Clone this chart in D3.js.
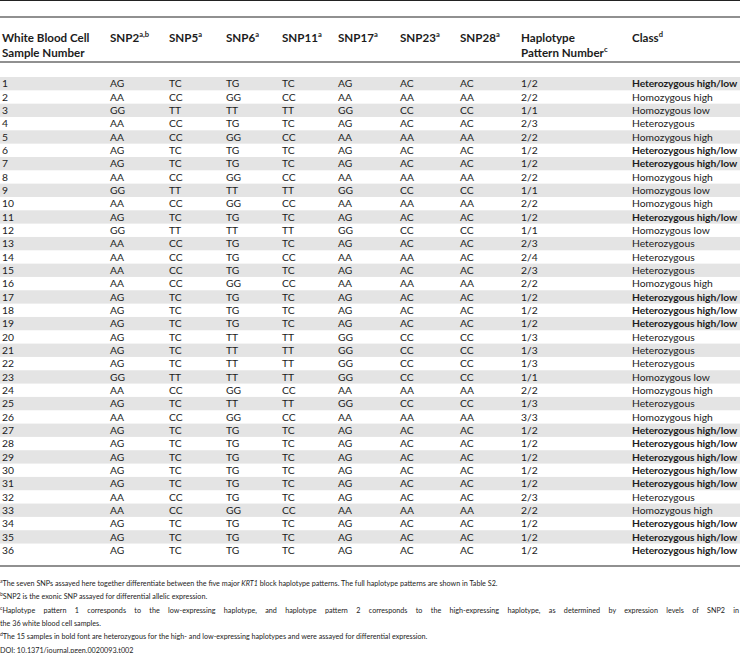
<!DOCTYPE html>
<html>
<head>
<meta charset="utf-8">
<script src="https://cdn.jsdelivr.net/npm/d3@7"></script>
<style>
  html, body { margin: 0; padding: 0; background: #fff; }
  svg { display: block; font-family: Lato, "Open Sans", sans-serif; }
</style>
</head>
<body>
<svg id="tbl" width="740" height="653"></svg>
<script>
// table data, one array per column
var samples = d3.range(1, 37);
var snp2  = ['AG','AA','GG','AA','AA','AG','AG','AA','GG','AA','AG','GG','AA','AA','AA','AA','AG','AG','AG','AG','AG','AG','GG','AA','AG','AA','AG','AG','AG','AG','AG','AA','AA','AG','AG','AG'];
var snp5  = ['TC','CC','TT','CC','CC','TC','TC','CC','TT','CC','TC','TT','CC','CC','CC','CC','TC','TC','TC','TC','TC','TC','TT','CC','TC','CC','TC','TC','TC','TC','TC','CC','CC','TC','TC','TC'];
var snp6  = ['TG','GG','TT','TG','GG','TG','TG','GG','TT','GG','TG','TT','TG','TG','TG','GG','TG','TG','TG','TT','TT','TT','TT','GG','TT','GG','TG','TG','TG','TG','TG','TG','GG','TG','TG','TG'];
var snp11 = ['TC','CC','TT','TC','CC','TC','TC','CC','TT','CC','TC','TT','TC','CC','TC','CC','TC','TC','TC','TT','TT','TT','TT','CC','TT','CC','TC','TC','TC','TC','TC','TC','CC','TC','TC','TC'];
var snp17 = ['AG','AA','GG','AG','AA','AG','AG','AA','GG','AA','AG','GG','AG','AA','AG','AA','AG','AG','AG','GG','GG','GG','GG','AA','GG','AA','AG','AG','AG','AG','AG','AG','AA','AG','AG','AG'];
var snp23 = ['AC','AA','CC','AC','AA','AC','AC','AA','CC','AA','AC','CC','AC','AA','AC','AA','AC','AC','AC','CC','CC','CC','CC','AA','CC','AA','AC','AC','AC','AC','AC','AC','AA','AC','AC','AC'];
var snp28 = ['AC','AA','CC','AC','AA','AC','AC','AA','CC','AA','AC','CC','AC','AC','AC','AA','AC','AC','AC','CC','CC','CC','CC','AA','CC','AA','AC','AC','AC','AC','AC','AC','AA','AC','AC','AC'];
var haplo = ['1/2','2/2','1/1','2/3','2/2','1/2','1/2','2/2','1/1','2/2','1/2','1/1','2/3','2/4','2/3','2/2','1/2','1/2','1/2','1/3','1/3','1/3','1/1','2/2','1/3','3/3','1/2','1/2','1/2','1/2','1/2','2/3','2/2','1/2','1/2','1/2'];
var cls   = ['Heterozygous high/low','Homozygous high','Homozygous low','Heterozygous','Homozygous high','Heterozygous high/low','Heterozygous high/low','Homozygous high','Homozygous low','Homozygous high','Heterozygous high/low','Homozygous low','Heterozygous','Heterozygous','Heterozygous','Homozygous high','Heterozygous high/low','Heterozygous high/low','Heterozygous high/low','Heterozygous','Heterozygous','Heterozygous','Homozygous low','Homozygous high','Heterozygous','Homozygous high','Heterozygous high/low','Heterozygous high/low','Heterozygous high/low','Heterozygous high/low','Heterozygous high/low','Heterozygous','Homozygous high','Heterozygous high/low','Heterozygous high/low','Heterozygous high/low'];

var headers = [
  {lines: ['White Blood Cell', 'Sample Number'], sup: ''},
  {lines: ['SNP2'], sup: 'a,b'},
  {lines: ['SNP5'], sup: 'a'},
  {lines: ['SNP6'], sup: 'a'},
  {lines: ['SNP11'], sup: 'a'},
  {lines: ['SNP17'], sup: 'a'},
  {lines: ['SNP23'], sup: 'a'},
  {lines: ['SNP28'], sup: 'a'},
  {lines: ['Haplotype', 'Pattern Number'], sup: 'c'},
  {lines: ['Class'], sup: 'd'}
];

// footnote lines; justify = stretched to the full width (wrapped paragraph)
var footnotes = [
  {sup: 'a', justify: false, parts: [['The seven SNPs assayed here together differentiate between the five major ', false], ['KRT1', true], [' block haplotype patterns. The full haplotype patterns are shown in Table S2.', false]]},
  {sup: 'b', justify: false, parts: [['SNP2 is the exonic SNP assayed for differential allelic expression.', false]]},
  {sup: 'c', justify: true, parts: [['Haplotype pattern 1 corresponds to the low-expressing haplotype, and haplotype pattern 2 corresponds to the high-expressing haplotype, as determined by expression levels of SNP2 in', false]]},
  {sup: '', justify: false, parts: [['the 36 white blood cell samples.', false]]},
  {sup: 'd', justify: false, parts: [['The 15 samples in bold font are heterozygous for the high- and low-expressing haplotypes and were assayed for differential expression.', false]]},
  {sup: '', justify: false, parts: [['DOI: 10.1371/journal.pgen.0020093.t002', false]]}
];

var columns = [samples, snp2, snp5, snp6, snp11, snp17, snp23, snp28, haplo, cls];
var BOLD_CLASS = 'Heterozygous high/low';

// layout
var W = 740;
var colX = [2, 110, 169, 226, 282, 338, 400, 460, 521, 632];
var svg = d3.select('#tbl');
var textCol = '#1c1c1c';

var y = d3.scaleBand()
  .domain(samples)
  .range([77, 77 + 36 * 13.33])
  .padding(0);

// row shading
svg.append('g').selectAll('rect')
  .data(samples.filter(function (d) { return d % 2 === 1; }))
  .enter().append('rect')
  .attr('x', 0)
  .attr('width', W)
  .attr('y', function (d) { return y(d); })
  .attr('height', y.bandwidth())
  .attr('fill', '#e4e4e4');

// rules
var rules = [{y: 0.5, w: 1.2}, {y: 17, w: 1.2}, {y: 62, w: 1.2}, {y: 566, w: 1.2}];
svg.append('g').selectAll('line')
  .data(rules)
  .enter().append('line')
  .attr('x1', 0).attr('x2', W)
  .attr('y1', function (d) { return d.y; })
  .attr('y2', function (d) { return d.y; })
  .attr('stroke', '#222')
  .attr('stroke-width', function (d) { return d.w; });

// header
var head = svg.append('g').attr('font-weight', 'bold').attr('font-size', 11.6).attr('fill', textCol);
headers.forEach(function (h, i) {
  h.lines.forEach(function (ln, j) {
    var t = head.append('text')
      .attr('x', colX[i])
      .attr('y', 42 + j * 15);
    t.append('tspan').text(ln);
    if (h.sup && j === h.lines.length - 1) {
      t.append('tspan').attr('font-size', 7.5).attr('dy', -5).text(h.sup);
    }
  });
});

// body cells
var body = svg.append('g').attr('font-size', 10.3).attr('fill', textCol);
columns.forEach(function (col, i) {
  body.append('g').selectAll('text')
    .data(col)
    .enter().append('text')
    .attr('x', colX[i])
    .attr('y', function (d, k) { return y(samples[k]) + y.bandwidth() / 2; })
    .attr('dy', '0.36em')
    .attr('font-weight', function (d) { return (i === 9 && d === BOLD_CLASS) ? 'bold' : null; })
    .attr('letter-spacing', function (d) { return (i === 9 && d === BOLD_CLASS) ? -0.1 : null; })
    .text(function (d) { return d; });
});

// footnotes
var foot = svg.append('g').attr('font-size', 7.2).attr('fill', textCol);
footnotes.forEach(function (f, i) {
  var t = foot.append('text').attr('x', 0).attr('y', 586 + i * 13.3);
  if (f.sup) t.append('tspan').attr('font-size', 5).attr('dy', -3).text(f.sup);
  f.parts.forEach(function (p, k) {
    var s = t.append('tspan').text(p[0]);
    if (k === 0 && f.sup) s.attr('dy', 3);
    if (p[1]) s.attr('font-style', 'italic');
  });
  if (f.justify) {
    var len = t.node().getComputedTextLength();
    var full = f.parts.map(function (p) { return p[0]; }).join('');
    var gaps = full.split(' ').length - 1;
    if (gaps > 0 && len < W) t.attr('word-spacing', (W - 1 - len) / gaps);
  }
});
</script>
</body>
</html>
